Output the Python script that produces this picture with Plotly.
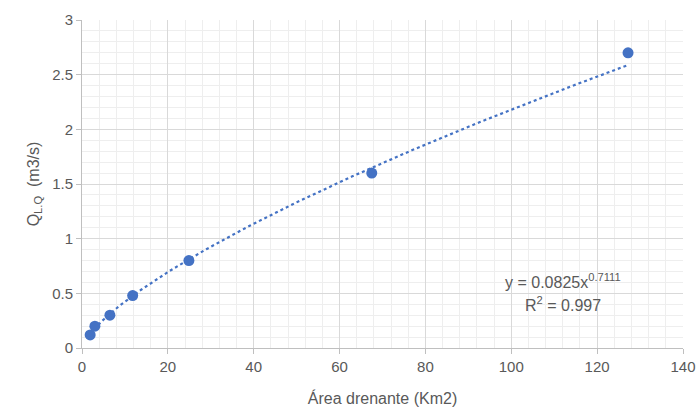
import numpy as np
import plotly.graph_objects as go

area = [1.9, 3.0, 6.5, 11.8, 24.9, 67.5, 127.2]
caudal = [0.12, 0.20, 0.30, 0.48, 0.80, 1.60, 2.70]
coef_a = 0.0825
coef_b = 0.7111
x_ticks = [0, 20, 40, 60, 80, 100, 120, 140]
y_ticks = [0, 0.5, 1, 1.5, 2, 2.5, 3]

xt = np.linspace(min(area), max(area), 200)
yt = coef_a * xt ** coef_b

blue = "#4472C4"
grey = "#595959"
font = "Liberation Sans"

fig = go.Figure()
fig.add_trace(go.Scatter(x=xt, y=yt, mode="lines",
                         line=dict(color=blue, width=2.2, dash="dot"),
                         hoverinfo="skip", showlegend=False))
fig.add_trace(go.Scatter(x=area, y=caudal, mode="markers",
                         marker=dict(color=blue, size=11),
                         showlegend=False))

fig.add_annotation(x=112, y=0.61, xref="x", yref="y",
                   text="y = 0.0825x<sup>0.7111</sup>", showarrow=False,
                   font=dict(family=font, size=16, color=grey))
fig.add_annotation(x=112, y=0.40, xref="x", yref="y",
                   text="R<sup>2</sup> = 0.997", showarrow=False,
                   font=dict(family=font, size=16, color=grey))

fig.update_layout(
    width=699, height=412,
    margin=dict(l=82, r=16, t=20, b=64),
    paper_bgcolor="white", plot_bgcolor="white",
    font=dict(family=font, size=15, color=grey),
    xaxis=dict(range=[0, 140], tickvals=x_ticks, showgrid=True,
               automargin=False,
               gridcolor="#D9D9D9", gridwidth=1,
               minor=dict(dtick=4, showgrid=True, gridcolor="#EEEEEE", gridwidth=1),
               showline=True, linecolor="#BFBFBF", linewidth=1,
               ticks="outside", ticklen=5, tickcolor="#BFBFBF",
               zeroline=False, mirror=False,
               title=dict(text="Área drenante (Km2)", standoff=18,
                          font=dict(size=16, color=grey)),
               tickfont=dict(size=15, color=grey)),
    yaxis=dict(range=[0, 3], tickvals=y_ticks, showgrid=True,
               automargin=False,
               gridcolor="#D9D9D9", gridwidth=1,
               minor=dict(dtick=0.1, showgrid=True, gridcolor="#EEEEEE", gridwidth=1),
               showline=True, linecolor="#BFBFBF", linewidth=1,
               ticks="outside", ticklen=5, tickcolor="#BFBFBF",
               zeroline=False,
               title=dict(text="Q<sub>L.Q</sub>  (m3/s)", standoff=8,
                          font=dict(size=16, color=grey)),
               tickfont=dict(size=15, color=grey)),
)

fig.write_html(
    "out.html",
    config={"displayModeBar": False},
    post_script="document.body.style.margin='0';document.body.style.overflow='hidden';",
)
